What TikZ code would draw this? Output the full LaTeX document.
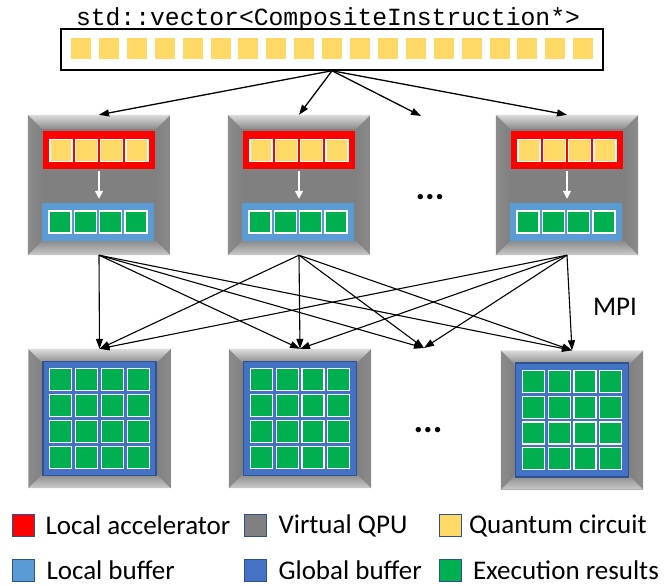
\documentclass[tikz,border=0pt]{standalone}
\usepackage{fontspec}
\setmainfont{Carlito}
\setmonofont{Liberation Mono}
\usepackage{tikz}
\usetikzlibrary{calc,positioning,arrows,arrows.meta}

\definecolor{qyellow}{HTML}{FFD966}
\definecolor{accred}{HTML}{FF0000}
\definecolor{lblue}{HTML}{5B9BD5}
\definecolor{gblue}{HTML}{4472C4}
\definecolor{gborder}{HTML}{2F528F}
\definecolor{resgreen}{HTML}{00B050}
\definecolor{qpugray}{HTML}{808080}
\definecolor{bevlight}{HTML}{DCDCDC}
\definecolor{bevmid}{HTML}{8C8C8C}

\newcommand{\bevel}[1]{%
  \shade[left color=bevmid,right color=qpugray] (#1.north west) -- ([shift={(14,14)}]#1.north west) -- ([shift={(14,-14)}]#1.south west) -- (#1.south west) -- cycle;
  \shade[left color=qpugray,right color=bevmid] (#1.north east) -- ([shift={(-14,14)}]#1.north east) -- ([shift={(-14,-14)}]#1.south east) -- (#1.south east) -- cycle;
  \shade[top color=bevlight,bottom color=bevmid] (#1.north west) -- (#1.north east) -- ([shift={(-14,14)}]#1.north east) -- ([shift={(14,14)}]#1.north west) -- cycle;
  \shade[top color=bevmid,bottom color=bevlight!92!black] (#1.south west) -- (#1.south east) -- ([shift={(-14,-14)}]#1.south east) -- ([shift={(14,-14)}]#1.south west) -- cycle;
}

\begin{document}
\begin{tikzpicture}[x=1pt,y=-1pt,>={Triangle[length=10pt,width=7pt]},
  qpu/.style={fill=qpugray,minimum width=142pt,minimum height=140pt,inner sep=0pt},
  acc/.style={fill=accred,minimum width=112pt,minimum height=38pt,inner sep=0pt},
  lbuf/.style={fill=lblue,minimum width=112pt,minimum height=38pt,inner sep=0pt},
  gbuf/.style={fill=gblue,draw=gborder,line width=1.5pt,minimum width=113pt,minimum height=114pt,inner sep=0pt},
  qcirc/.style={fill=qyellow,draw=white,line width=1.2pt,minimum size=22pt,inner sep=0pt},
  res/.style={fill=resgreen,draw=white,line width=1.2pt,minimum size=22pt,inner sep=0pt},
  vsq/.style={fill=qyellow,minimum width=20pt,minimum height=21pt,inner sep=0pt},
  lgd/.style={draw=gborder,line width=1pt,minimum size=22pt,inner sep=0pt},
  lgdtxt/.style={font=\fontsize{27}{30}\selectfont},
  ellip/.style={font=\fontsize{36}{36}\selectfont\bfseries},
  link/.style={->,line width=1.3pt}]
\useasboundingbox (0,0) rectangle (667,586);

\node[font=\ttfamily\fontsize{24.7}{28}\selectfont,anchor=base] (ttl) at (328,26) {std::vector<CompositeInstruction*>};
\node[draw,line width=1.5pt,minimum width=542pt,minimum height=41pt,inner sep=0pt] (vec) at (332,49.5) {};
\foreach \i in {0,...,18} \node[vsq] (v\i) at ($(vec)+(-251+27.9*\i,-1)$) {};

\node[qpu] (q1) at (99,185) {};
\node[qpu] (q2) at (299,185) {};
\node[qpu] (q3) at (567,185) {};
\node[qpu,minimum height=139pt] (g1) at (99.5,418.5) {};
\node[qpu,minimum height=139pt] (g2) at (300,418.5) {};
\node[qpu,minimum height=139pt] (g3) at (572,420) {};
\foreach \n in {q1,q2,q3,g1,g2,g3} {\bevel{\n}}

\foreach \n in {1,2,3} {
  \node[acc] (r\n) at ($(q\n)+(0,-35)$) {};
  \node[lbuf] (lb\n) at ($(q\n)+(-1,37)$) {};
  \foreach \k in {0,...,3} {
    \node[qcirc] (rc\n\k) at ($(r\n)+(-38+25.33*\k,0.5)$) {};
    \node[res] (lc\n\k) at ($(lb\n)+(-38+25.33*\k,0)$) {};
  }
  \draw[white,->,line width=1.5pt,shorten <=2pt,shorten >=4pt,>={Triangle[length=8pt,width=8pt]}] (r\n.south) -- (r\n.south |- lb\n.north);
  \node[gbuf] (gb\n) at (g\n) {};
  \foreach \r in {0,...,3}
    \foreach \k in {0,...,3}
      \node[res] (gc\n\r\k) at ($(gb\n)+(-38.7+25.8*\k,-38.7+25.8*\r)$) {};
}

\node[ellip] (e1) at (430,197) {...};
\node[ellip] (e2) at (428,430) {...};
\coordinate (dtop) at (421,116);
\coordinate (dbot) at (424,348);

\draw[link] (vec.south) -- (q1.north);
\draw[link] (vec.south) -- (q2.north);
\draw[link] (vec.south) -- (dtop);
\draw[link] (vec.south) -- (q3.north);

\foreach \s in {q1,q2,q3} {
  \draw[link,line width=1.1pt] (\s.south) -- (g1.north);
  \draw[link,line width=1.1pt] (\s.south) -- (g2.north);
  \draw[link,line width=1.1pt] (\s.south) -- (dbot);
  \draw[link,line width=1.1pt] (\s.south) -- (g3.north);
}
\node[lgdtxt] (mpi) at (615,307) {MPI};

\node[lgd,fill=accred] (l1) at (23.5,525.5) {};
\node[lgd,fill=qpugray] (l2) at (255.5,525.5) {};
\node[lgd,fill=qyellow] (l3) at (450,525.5) {};
\node[lgd,fill=lblue] (l4) at (23.5,570.5) {};
\node[lgd,fill=gblue] (l5) at (255.5,570.5) {};
\node[lgd,fill=resgreen] (l6) at (450,570.5) {};
\node[lgdtxt,right=7pt of l1] (t1) {Local accelerator};
\node[lgdtxt,right=8pt of l2] (t2) {Virtual QPU};
\node[lgdtxt,right=4pt of l3] (t3) {Quantum circuit};
\node[lgdtxt,right=8pt of l4] (t4) {Local buffer};
\node[lgdtxt,right=8pt of l5] (t5) {Global buffer};
\node[lgdtxt,right=8pt of l6] (t6) {Execution results};
\end{tikzpicture}
\end{document}
